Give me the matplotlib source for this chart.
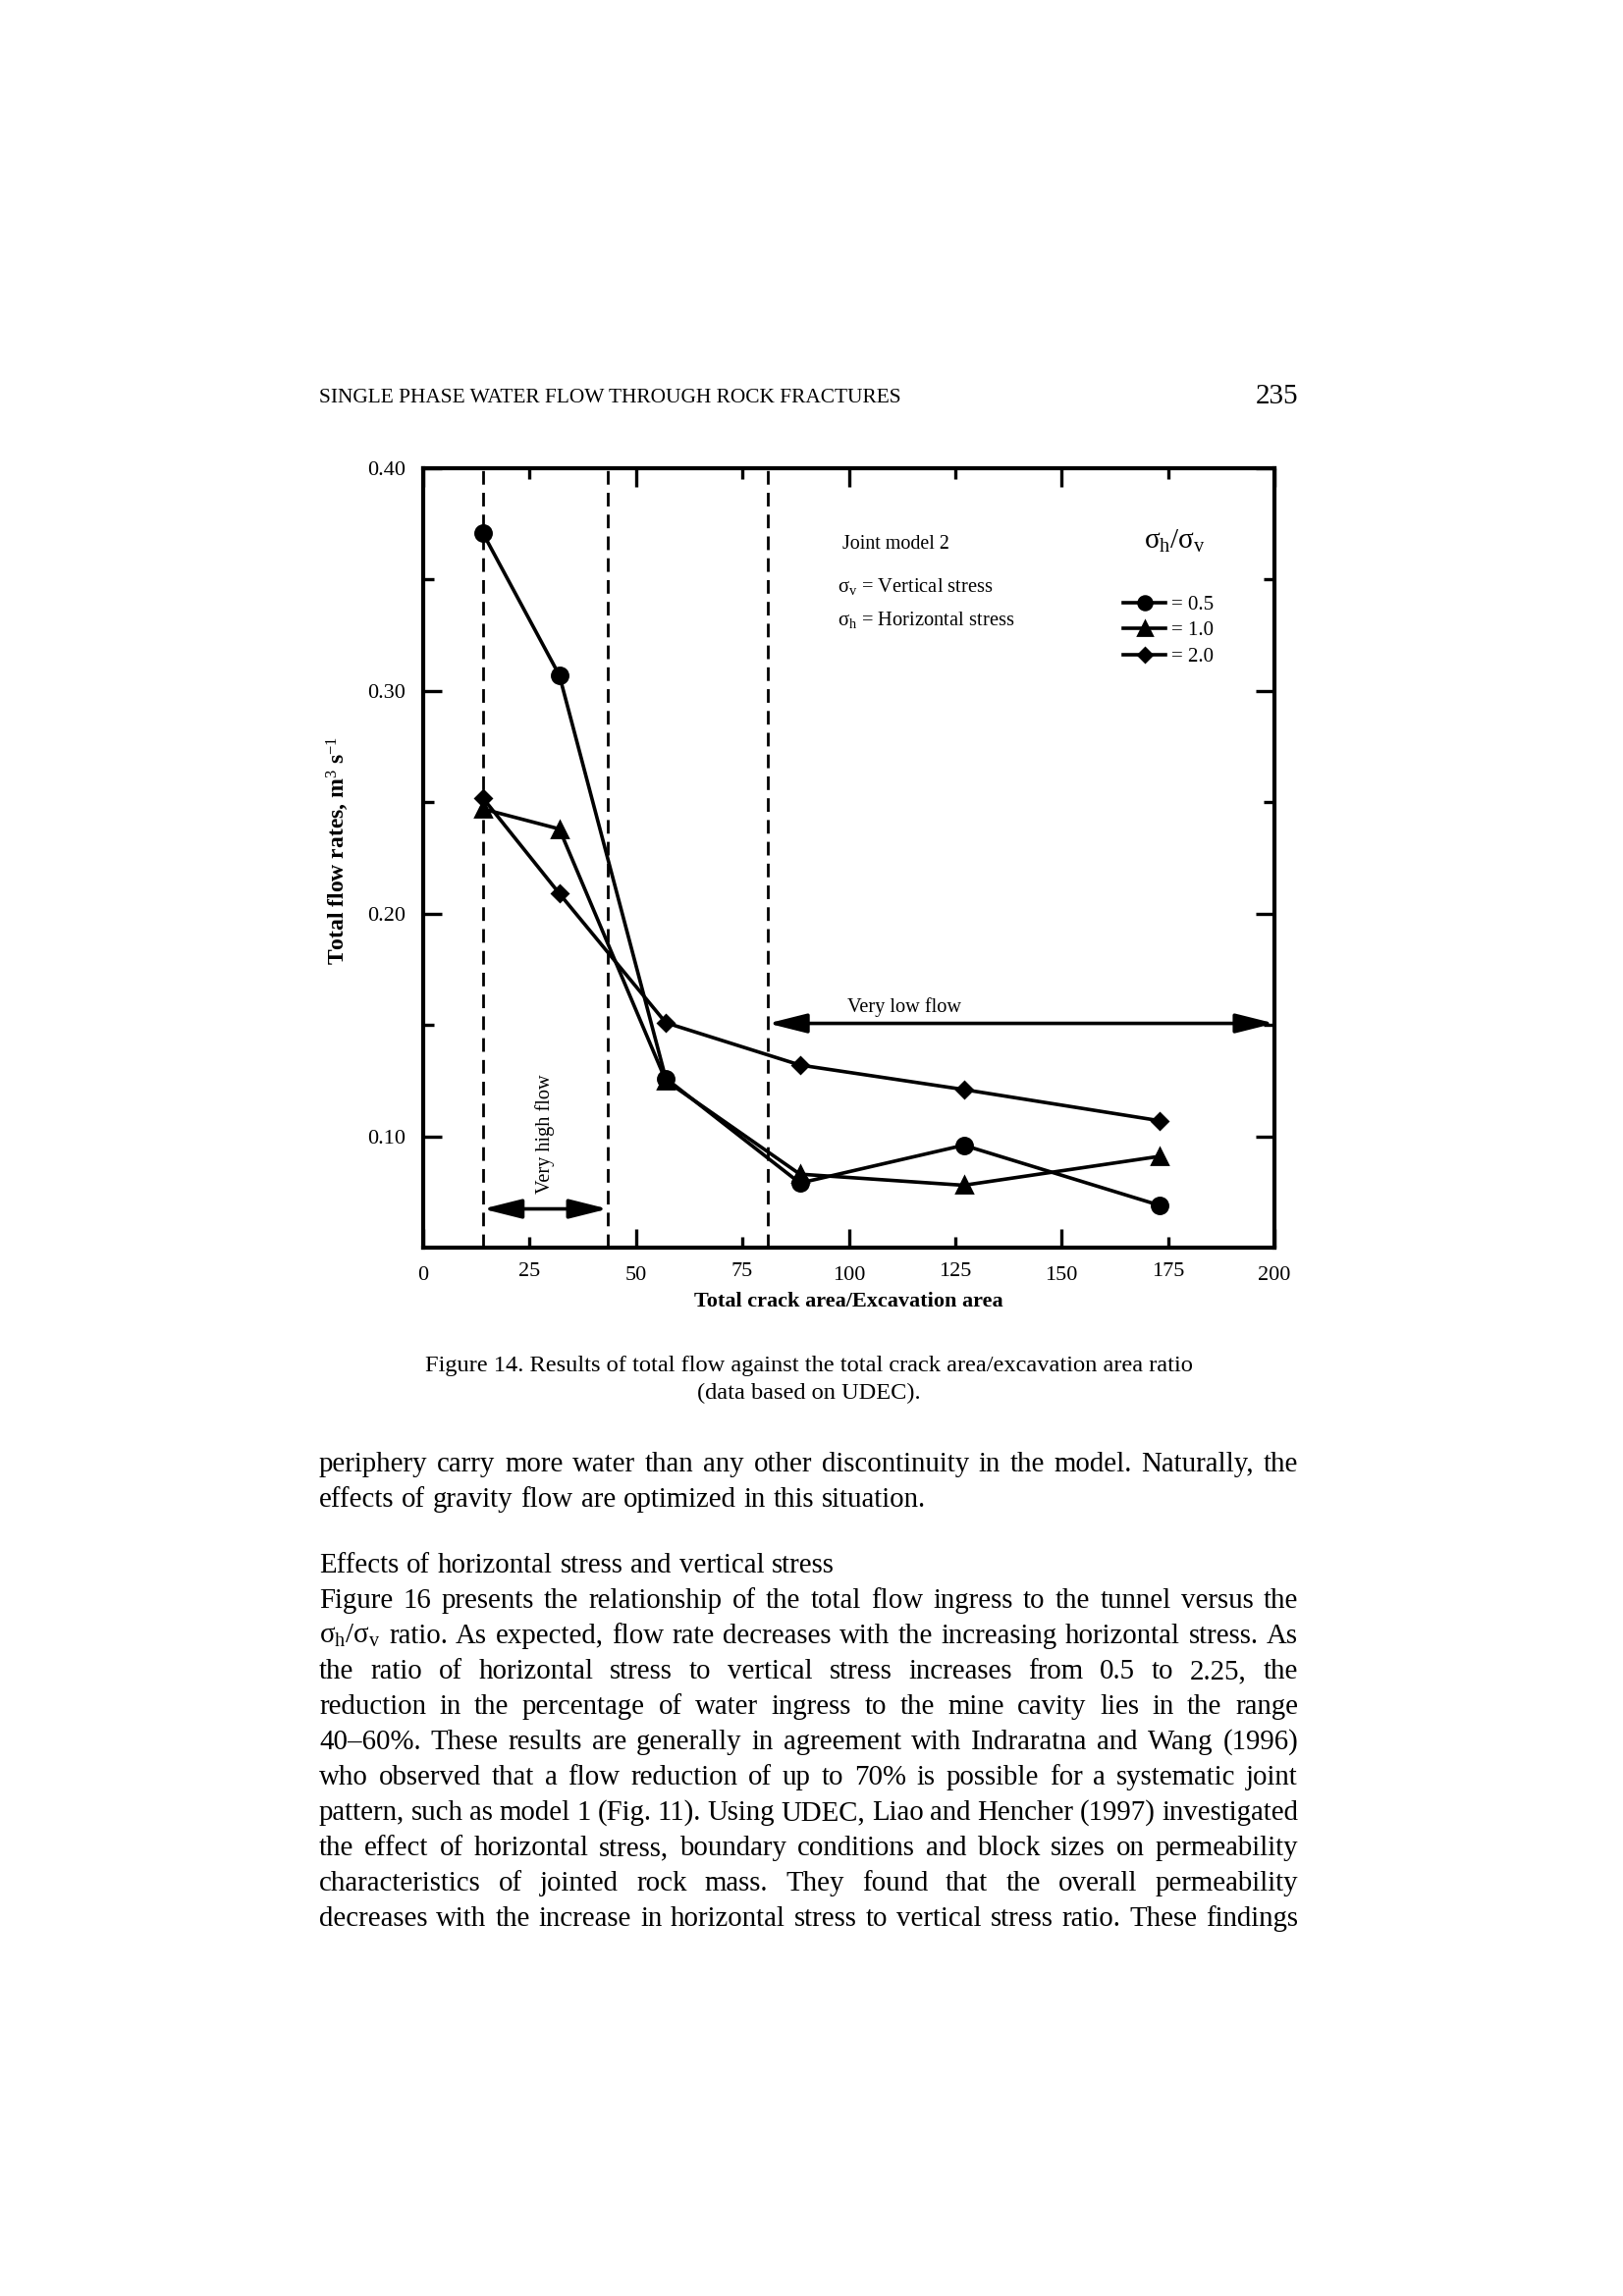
import matplotlib
matplotlib.use('Agg')
import matplotlib.pyplot as plt
from matplotlib.ticker import FixedLocator, FixedFormatter, NullFormatter

plt.rcParams['font.family'] = ['Liberation Serif', 'DejaVu Serif']
plt.rcParams['mathtext.fontset'] = 'custom'
plt.rcParams['mathtext.rm'] = 'Liberation Serif'
plt.rcParams['mathtext.it'] = 'Liberation Serif:italic'
plt.rcParams['mathtext.bf'] = 'Liberation Serif:bold'

# ---------------- data ----------------
crack_ratio = [14, 32, 57, 88.5, 127, 173]
flow_05 = [0.371, 0.307, 0.126, 0.079, 0.096, 0.069]
flow_10 = [0.247, 0.238, 0.125, 0.083, 0.078, 0.091]
flow_20 = [0.252, 0.209, 0.151, 0.132, 0.121, 0.107]
series_labels = ['= 0.5', '= 1.0', '= 2.0']
series_markers = ['o', '^', 'D']
zone_bounds = [14, 43.4, 81]
x_major = [0, 50, 100, 150, 200]
x_minor = [25, 75, 125, 175]
y_major = [0.10, 0.20, 0.30, 0.40]
y_minor = [0.15, 0.25, 0.35]

header = 'SINGLE PHASE WATER FLOW THROUGH ROCK FRACTURES'
page_no = '235'
caption = ['Figure 14. Results of total flow against the total crack area/excavation area ratio',
           '(data based on UDEC).']
body = [
    ('periphery carry more water than any other discontinuity in the model. Naturally, the', True),
    ('effects of gravity flow are optimized in this situation.', False),
    None,
    ('Effects of horizontal stress and vertical stress', False),
    ('Figure 16 presents the relationship of the total flow ingress to the tunnel versus the', True),
    (r'$\mathrm{\sigma_h/\sigma_v}$ ratio. As expected, flow rate decreases with the increasing horizontal stress. As', True),
    ('the ratio of horizontal stress to vertical stress increases from 0.5 to 2.25, the', True),
    ('reduction in the percentage of water ingress to the mine cavity lies in the range', True),
    ('40\u201360%. These results are generally in agreement with Indraratna and Wang (1996)', True),
    ('who observed that a flow reduction of up to 70% is possible for a systematic joint', True),
    ('pattern, such as model 1 (Fig. 11). Using UDEC, Liao and Hencher (1997) investigated', True),
    ('the effect of horizontal stress, boundary conditions and block sizes on permeability', True),
    ('characteristics of jointed rock mass. They found that the overall permeability', True),
    ('decreases with the increase in horizontal stress to vertical stress ratio. These findings', True),
]

W, H, DPI = 1653, 2339, 200
fig = plt.figure(figsize=(W / DPI, H / DPI), dpi=DPI)
fig.patch.set_facecolor('white')

# page overlay in pixel units
page = fig.add_axes([0, 0, 1, 1], zorder=0)
page.set_xlim(0, W)
page.set_ylim(H, 0)
page.axis('off')
page.patch.set_alpha(0)

page.text(325, 406, header, fontsize=7.7, va='center', ha='left')
page.text(1322, 404, page_no, fontsize=10.5, va='center', ha='right')
page.text(823.5, 1392, caption[0], fontsize=8.8, va='center', ha='center')
page.text(823.5, 1419, caption[1], fontsize=8.8, va='center', ha='center')

renderer = fig.canvas.get_renderer()
X0, X1 = 325, 1322


def word_widths(words, fs):
    out = []
    for w in words:
        t = page.text(0, 0, w, fontsize=fs)
        out.append(t.get_window_extent(renderer).width)
        t.remove()
    return out


# choose the body font size so the tightest justified line keeps a sensible word gap
BODY_FS = 11.2
while BODY_FS > 9.0:
    ok = True
    for item in body:
        if item is None or not item[1]:
            continue
        ws = item[0].split(' ')
        g = (X1 - X0 - sum(word_widths(ws, BODY_FS))) / (len(ws) - 1)
        if g < 0.2 * BODY_FS * DPI / 72:
            ok = False
            break
    if ok:
        break
    BODY_FS -= 0.1

y = 1499
for item in body:
    if item is None:
        y += 31
        continue
    line, just = item
    words = line.split(' ')
    texts = [page.text(0, y, w, fontsize=BODY_FS, va='baseline', ha='left') for w in words]
    widths = [t.get_window_extent(renderer).width for t in texts]
    if just and len(words) > 1:
        gap = (X1 - X0 - sum(widths)) / (len(words) - 1)
    else:
        gap = 0.27 * BODY_FS * DPI / 72
    x = X0
    for t, w in zip(texts, widths):
        t.set_x(x)
        x += w + gap
    y += 36

# ---------------- chart ----------------
ax = fig.add_axes([431 / W, 1 - 1271 / H, (1298 - 431) / W, (1271 - 477) / H], zorder=2)
ax.set_xlim(0, 200)
ax.set_ylim(0.05, 0.40)

marker_sizes = {'o': 5.8, '^': 6.0, 'D': 4.3}
handles = []
for vals, mk, lab in zip([flow_05, flow_10, flow_20], series_markers, series_labels):
    h, = ax.plot(crack_ratio, vals, color='black', lw=1.3, marker=mk, ms=marker_sizes[mk],
                 mfc='black', mec='black', label=lab, zorder=3)
    handles.append(h)

for xb in zone_bounds:
    ax.axvline(xb, color='black', lw=1.0, ls=(0, (5, 3)), zorder=1)

arrow_kw = dict(arrowstyle='<|-|>,head_length=1.0,head_width=0.25', color='black',
                lw=1.3, shrinkA=0, shrinkB=0, mutation_scale=12)
ax.annotate('', xy=(zone_bounds[0], 0.0674), xytext=(zone_bounds[1], 0.0674),
            arrowprops=arrow_kw)
ax.annotate('', xy=(zone_bounds[2], 0.1507), xytext=(200, 0.1507),
            arrowprops=arrow_kw)
ax.text((zone_bounds[0] + zone_bounds[1]) / 2, 0.101, 'Very high flow', rotation=90,
        ha='center', va='center', fontsize=7.3)
ax.text(113, 0.158, 'Very low flow', ha='center', va='center', fontsize=7.3)

ax.text(98.5, 0.366, 'Joint model 2', ha='left', va='center', fontsize=7.2)
ax.text(97.4, 0.347, r'$\mathrm{\sigma_v}$ = Vertical stress', ha='left', va='center', fontsize=7.4)
ax.text(97.4, 0.332, r'$\mathrm{\sigma_h}$ = Horizontal stress', ha='left', va='center', fontsize=7.4)
ax.text(176.5, 0.367, r'$\mathrm{\sigma_h/\sigma_v}$', ha='center', va='center', fontsize=10.5)

leg = ax.legend(handles=handles, loc='upper left', bbox_to_anchor=(0.822, 0.837),
                frameon=False, fontsize=7.5, handlelength=2.1, handletextpad=0.25,
                labelspacing=0.33, borderpad=0, borderaxespad=0, markerscale=0.85)

for s in ax.spines.values():
    s.set_linewidth(1.5)

ax.xaxis.set_major_locator(FixedLocator(x_major))
ax.xaxis.set_minor_locator(FixedLocator(x_minor))
ax.xaxis.set_major_formatter(FixedFormatter([str(v) for v in x_major]))
ax.xaxis.set_minor_formatter(FixedFormatter([str(v) for v in x_minor]))
ax.yaxis.set_major_locator(FixedLocator(y_major))
ax.yaxis.set_minor_locator(FixedLocator(y_minor))
ax.yaxis.set_major_formatter(FixedFormatter(['%.2f' % v for v in y_major]))
ax.yaxis.set_minor_formatter(NullFormatter())

ax.tick_params(which='both', direction='in', top=True, right=True, width=1.2, labelsize=8)
ax.tick_params(which='major', length=7)
ax.tick_params(which='minor', length=4)
ax.tick_params(axis='x', which='major', pad=7)
ax.tick_params(axis='x', which='minor', pad=5.5, labelsize=8)
ax.tick_params(axis='y', which='major', pad=6.5)

ax.set_xlabel('Total crack area/Excavation area', fontsize=8.0, fontweight='bold')
ax.set_ylabel(r'Total flow rates, m$^{3}$ s$^{-1}$', fontsize=8.5, fontweight='bold')
ax.xaxis.set_label_coords(0.5, -0.057)
ax.yaxis.set_label_coords(-0.085, 0.51)

fig.savefig('out.png', dpi=DPI, facecolor='white')
